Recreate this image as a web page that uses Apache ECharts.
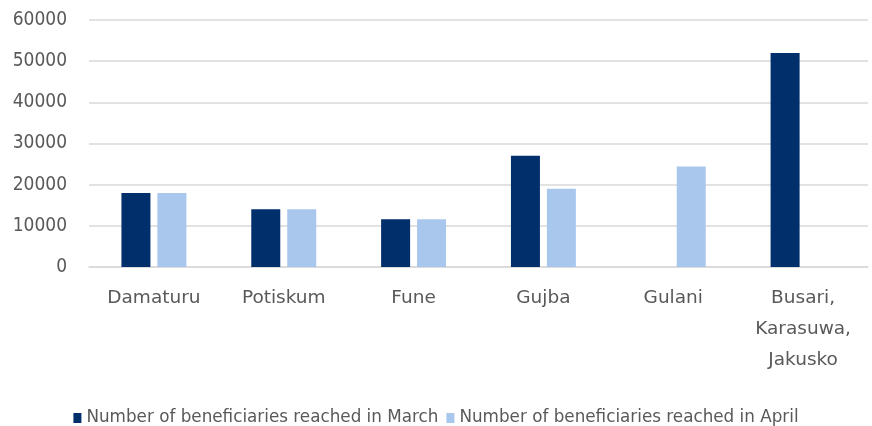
<!DOCTYPE html>
<html>
<head>
<meta charset="utf-8">
<script src="https://cdn.jsdelivr.net/npm/echarts@6/dist/echarts.min.js"></script>
<style>html,body{margin:0;padding:0;background:#fff}#c{width:872px;height:426px}</style>
</head>
<body>
<div id="c"></div>
<script>
var categories = ["Damaturu", "Potiskum", "Fune", "Gujba", "Gulani", "Busari, Karasuwa, Jakusko"];
var seriesNames = ["Number of beneficiaries reached in March", "Number of beneficiaries reached in April"];
var marchValues = [18000, 14000, 11600, 27000, null, 52000];
var aprilValues = [18000, 14000, 11600, 19000, 24400, null];
var yTicks = [0, 10000, 20000, 30000, 40000, 50000, 60000];

var chart = echarts.init(document.getElementById('c'), null, {renderer: 'canvas'});
chart.setOption({
  animation: false,
  backgroundColor: '#ffffff',
  grid: {left: 89, right: 4, top: 20, bottom: 159, containLabel: false},
  legend: {
    top: 409,
    padding: 0,
    left: 'center',
    itemWidth: 8,
    itemHeight: 10,
    itemGap: 8,
    icon: 'rect',
    textStyle: {color: '#595959', fontSize: 16.8, lineHeight: 18, fontFamily: '"DejaVu Sans", sans-serif'},
    data: seriesNames
  },
  xAxis: {
    type: 'category',
    data: categories,
    axisLine: {show: true, lineStyle: {color: '#d9d9d9', width: 1.5}},
    axisTick: {show: false},
    axisLabel: {
      interval: 0,
      margin: 16,
      color: '#595959',
      fontSize: 18.5,
      lineHeight: 31,
      fontFamily: '"DejaVu Sans", sans-serif',
      formatter: function (v) { return v.replace(/, /g, ',\n'); }
    }
  },
  yAxis: {
    type: 'value',
    min: yTicks[0],
    max: yTicks[yTicks.length - 1],
    interval: yTicks[1] - yTicks[0],
    axisLine: {show: false},
    axisTick: {show: false},
    splitLine: {lineStyle: {color: '#d9d9d9', width: 1.5}},
    axisLabel: {
      margin: 22,
      color: '#595959',
      fontSize: 19,
      fontFamily: '"DejaVu Sans Condensed", "DejaVu Sans", sans-serif',
      formatter: function (v) { return String(v); }
    }
  },
  series: [
    {
      name: seriesNames[0],
      type: 'bar',
      data: marchValues,
      barWidth: 29,
      barGap: '24%',
      itemStyle: {color: '#002F6B'}
    },
    {
      name: seriesNames[1],
      type: 'bar',
      data: aprilValues,
      barWidth: 29,
      itemStyle: {color: '#A9C7ED'}
    }
  ]
});
</script>
</body>
</html>
